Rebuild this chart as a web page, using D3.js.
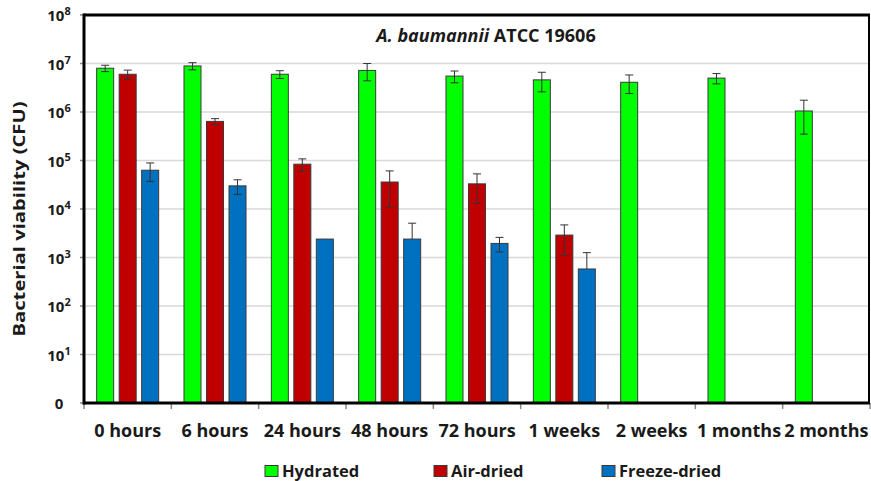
<!DOCTYPE html>
<html>
<head>
<meta charset="utf-8">
<script src="https://cdn.jsdelivr.net/npm/d3@7"></script>
<style>
  html, body { margin: 0; padding: 0; background: #fff; }
  svg { display: block; font-family: "Open Sans", "Noto Sans", sans-serif; font-weight: 700; }
</style>
</head>
<body>
<svg id="chart" width="871" height="481"></svg>
<script>
// Viability over time for A. baumannii ATCC 19606 (CFU, log scale)
const categories = ["0 hours", "6 hours", "24 hours", "48 hours", "72 hours", "1 weeks", "2 weeks", "1 months", "2 months"];
const seriesNames = ["Hydrated", "Air-dried", "Freeze-dried"];
const seriesColors = ["#00ff00", "#c00000", "#0070c0"];

const hydrated       = [8.0e6, 8.9e6, 6.0e6, 7.2e6, 5.5e6, 4.6e6, 4.1e6, 5.0e6, 1.05e6];
const hydratedErr    = [1.2e6, 1.5e6, 1.1e6, 2.8e6, 1.5e6, 2.0e6, 1.7e6, 1.2e6, 0.7e6];
const airDried       = [6.0e6, 6.4e5, 8.4e4, 3.6e4, 3.3e4, 2.9e3, null, null, null];
const airDriedErr    = [1.3e6, 0.9e5, 2.4e4, 2.5e4, 2.0e4, 1.8e3, null, null, null];
const freezeDried    = [6.3e4, 3.0e4, 2.4e3, 2.4e3, 1.95e3, 580, null, null, null];
const freezeDriedErr = [2.6e4, 1.0e4, 0, 2.7e3, 0.65e3, 680, null, null, null];

const yTickExponents = [0, 1, 2, 3, 4, 5, 6, 7, 8];

const values = [hydrated, airDried, freezeDried];
const errors = [hydratedErr, airDriedErr, freezeDriedErr];

const svg = d3.select("#chart");
const plot = { left: 84, right: 869, top: 15, bottom: 403 };

const x = d3.scaleBand().domain(categories).range([plot.left, plot.right + 1]).padding(0);
const xs = d3.scaleBand().domain(seriesNames).range([0, x.bandwidth()])
  .paddingInner(0.244).paddingOuter(0.5625);
const y = d3.scaleLog().domain([1, 1e8]).range([plot.bottom, plot.top]);

// gridlines
svg.append("g").selectAll("line")
  .data(yTickExponents.filter(e => e > 0 && e < 8))
  .join("line")
  .attr("x1", plot.left).attr("x2", plot.right)
  .attr("y1", e => y(Math.pow(10, e))).attr("y2", e => y(Math.pow(10, e)))
  .attr("stroke", "#d9d9d9").attr("stroke-width", 1.5);

// bars
const rows = [];
values.forEach((vals, si) => {
  vals.forEach((v, ci) => {
    if (v != null) rows.push({ s: seriesNames[si], si, c: categories[ci], v, e: errors[si][ci] });
  });
});

svg.append("g").selectAll("rect")
  .data(rows)
  .join("rect")
  .attr("x", d => x(d.c) + xs(d.s))
  .attr("width", xs.bandwidth())
  .attr("y", d => y(d.v))
  .attr("height", d => plot.bottom - y(d.v))
  .attr("fill", d => seriesColors[d.si])
  .attr("stroke", "#3a3a3a").attr("stroke-width", 1);

// error bars (lower whisker omitted when it would fall below zero)
const eg = svg.append("g").attr("stroke", "#333").attr("stroke-width", 1).attr("fill", "none");
const capHalf = 4;
rows.filter(d => d.e).forEach(d => {
  const cx = x(d.c) + xs(d.s) + xs.bandwidth() / 2;
  const top = y(d.v + d.e);
  const low = d.v - d.e;
  const bottom = low > 0 ? y(low) : y(d.v);
  eg.append("line").attr("x1", cx).attr("x2", cx).attr("y1", top).attr("y2", bottom);
  eg.append("line").attr("x1", cx - capHalf).attr("x2", cx + capHalf).attr("y1", top).attr("y2", top);
  if (low > 0) {
    eg.append("line").attr("x1", cx - capHalf).attr("x2", cx + capHalf).attr("y1", bottom).attr("y2", bottom);
  }
});

// plot frame
svg.append("line").attr("x1", plot.left).attr("x2", plot.right + 1).attr("y1", plot.top).attr("y2", plot.top)
  .attr("stroke", "#000").attr("stroke-width", 3);
svg.append("line").attr("x1", plot.right).attr("x2", plot.right).attr("y1", plot.top).attr("y2", plot.bottom)
  .attr("stroke", "#000").attr("stroke-width", 2);

// x axis
const xAxis = d3.axisBottom(x).tickSize(0).tickPadding(0);
const gx = svg.append("g").attr("transform", `translate(0,${plot.bottom})`).call(xAxis);
gx.select(".domain").remove();
gx.selectAll("text")
  .attr("y", 34).attr("dy", null)
  .attr("fill", "#1a1a1a")
  .style("font-size", "18px").style("font-family", "\"Open Sans\", sans-serif").style("font-weight", 700);
svg.append("g").selectAll("line")
  .data(d3.range(categories.length + 1))
  .join("line")
  .attr("x1", i => plot.left + i * x.bandwidth()).attr("x2", i => plot.left + i * x.bandwidth())
  .attr("y1", plot.bottom).attr("y2", plot.bottom + 6)
  .attr("stroke", "#888").attr("stroke-width", 1.5);
svg.append("line").attr("x1", plot.left - 1).attr("x2", plot.right + 1)
  .attr("y1", plot.bottom).attr("y2", plot.bottom)
  .attr("stroke", "#000").attr("stroke-width", 3);

// y axis
const gy = svg.append("g");
gy.selectAll("line.tick")
  .data(yTickExponents)
  .join("line")
  .attr("x1", plot.left - 4).attr("x2", plot.left)
  .attr("y1", e => y(Math.pow(10, e))).attr("y2", e => y(Math.pow(10, e)))
  .attr("stroke", "#888").attr("stroke-width", 1.5);
const labels = gy.selectAll("text")
  .data(yTickExponents)
  .join("text")
  .attr("x", 59)
  .attr("y", e => y(Math.pow(10, e)) + 6)
  .attr("text-anchor", "middle")
  .attr("fill", "#1a1a1a")
  .style("font-size", "15px");
labels.each(function (e) {
  const t = d3.select(this);
  if (e === 0) { t.text("0"); return; }
  t.append("tspan").text("10");
  t.append("tspan").attr("dy", -6).style("font-size", "11px").text(e);
});
svg.append("line").attr("x1", plot.left).attr("x2", plot.left)
  .attr("y1", plot.top - 1.5).attr("y2", plot.bottom + 1.5)
  .attr("stroke", "#000").attr("stroke-width", 3);

// axis title
svg.append("text")
  .attr("transform", "translate(25,219) rotate(-90)")
  .attr("text-anchor", "middle")
  .attr("fill", "#1a1a1a")
  .attr("textLength", 235).attr("lengthAdjust", "spacingAndGlyphs")
  .style("font-size", "15.5px")
  .text("Bacterial viability (CFU)");

// chart title
const title = svg.append("text")
  .attr("x", 486).attr("y", 42)
  .attr("text-anchor", "middle")
  .attr("fill", "#1a1a1a")
  .style("font-size", "18px");
title.append("tspan").style("font-style", "italic").text("A. baumannii");
title.append("tspan").text(" ATCC 19606");

// legend
const legendX = [265, 434, 602];
const lg = svg.append("g");
seriesNames.forEach((name, i) => {
  lg.append("rect")
    .attr("x", legendX[i]).attr("y", 465.5).attr("width", 13).attr("height", 11)
    .attr("fill", seriesColors[i]).attr("stroke", "#3a3a3a").attr("stroke-width", 1);
  lg.append("text")
    .attr("x", legendX[i] + 17).attr("y", 476.5)
    .attr("fill", "#1a1a1a")
    .style("font-size", "16.5px")
    .text(name);
});
</script>
</body>
</html>
